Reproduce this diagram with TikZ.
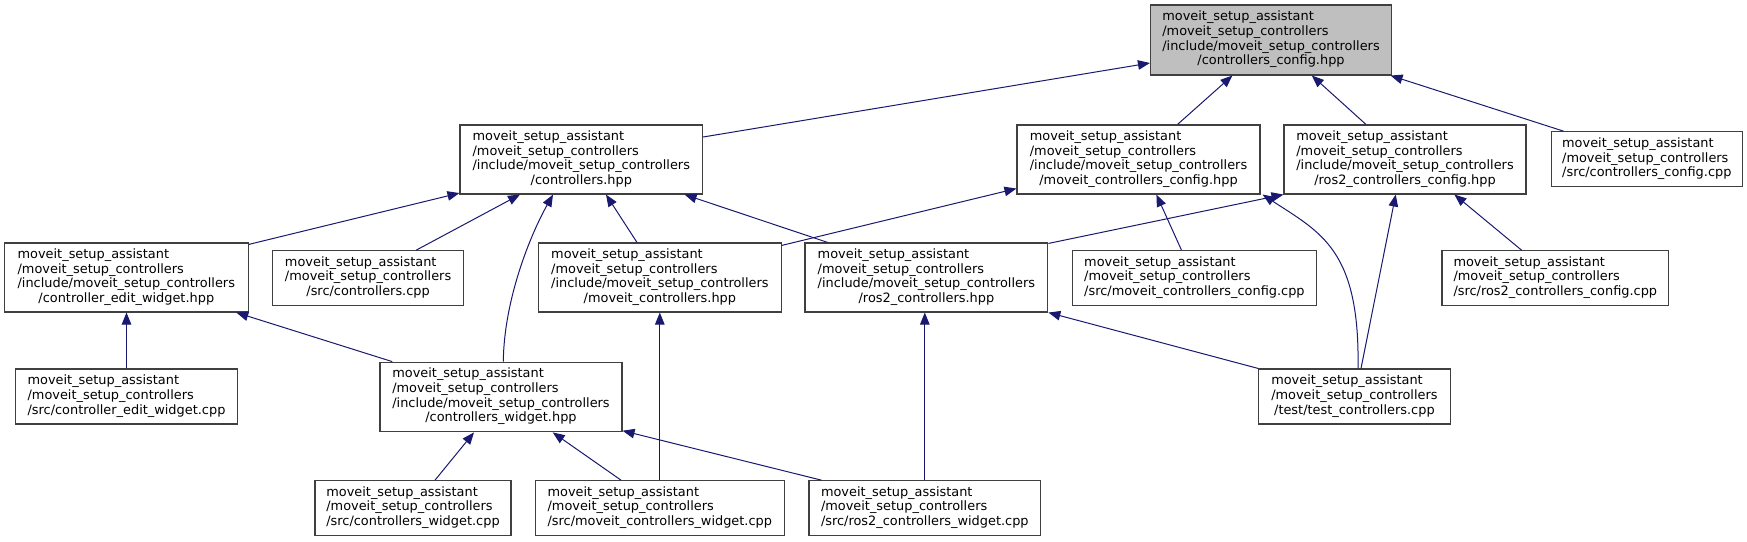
\documentclass[tikz,border=0pt]{standalone}
\usepackage{fontspec}
\setmainfont{DejaVu Sans}
\usetikzlibrary{arrows.meta}
\definecolor{edgecol}{RGB}{25,25,112}
\definecolor{boxline}{RGB}{64,64,64}
\definecolor{hl}{RGB}{191,191,191}
\newcommand{\NT}[2]{\begin{tabular}{@{}l@{}}#1\\\multicolumn{1}{@{}c@{}}{#2}\end{tabular}}
\begin{document}
\begin{tikzpicture}[x=1pt,y=-1pt,
  box/.style={draw=boxline, line width=1.1pt, fill=white, inner sep=0pt, align=center,
    font=\fontsize{12.9}{14.7}\selectfont},
  edge/.style={draw=edgecol, line width=1pt, -{Triangle[length=12pt,width=9.5pt]}}]
\useasboundingbox (0,0) rectangle (1747,541);
\fill[white] (0,0) rectangle (1747,541);

\node[box, fill=hl, minimum width=241pt, minimum height=70pt] (top) at (1271,40)
  {\NT{moveit\_setup\_assistant\\/moveit\_setup\_controllers\\/include/moveit\_setup\_controllers}{/controllers\_config.hpp}};
\node[box, minimum width=242.6pt, minimum height=69pt] (ctrl) at (581.3,159.5)
  {\NT{moveit\_setup\_assistant\\/moveit\_setup\_controllers\\/include/moveit\_setup\_controllers}{/controllers.hpp}};
\node[box, minimum width=243pt, minimum height=69pt] (mcc) at (1138.5,159.5)
  {\NT{moveit\_setup\_assistant\\/moveit\_setup\_controllers\\/include/moveit\_setup\_controllers}{/moveit\_controllers\_config.hpp}};
\node[box, minimum width=242pt, minimum height=69pt] (rcc) at (1405,159.5)
  {\NT{moveit\_setup\_assistant\\/moveit\_setup\_controllers\\/include/moveit\_setup\_controllers}{/ros2\_controllers\_config.hpp}};
\node[box, minimum width=191.5pt, minimum height=55pt] (scc) at (1646.8,159.2)
  {\NT{moveit\_setup\_assistant\\/moveit\_setup\_controllers}{/src/controllers\_config.cpp}};

\node[box, minimum width=243.5pt, minimum height=69pt] (cew) at (126.3,277.5)
  {\NT{moveit\_setup\_assistant\\/moveit\_setup\_controllers\\/include/moveit\_setup\_controllers}{/controller\_edit\_widget.hpp}};
\node[box, minimum width=190.8pt, minimum height=54.3pt] (sc) at (368.1,277.9)
  {\NT{moveit\_setup\_assistant\\/moveit\_setup\_controllers}{/src/controllers.cpp}};
\node[box, minimum width=242.3pt, minimum height=69pt] (mc) at (659.9,277.5)
  {\NT{moveit\_setup\_assistant\\/moveit\_setup\_controllers\\/include/moveit\_setup\_controllers}{/moveit\_controllers.hpp}};
\node[box, minimum width=242.8pt, minimum height=69pt] (rc) at (926.4,277.5)
  {\NT{moveit\_setup\_assistant\\/moveit\_setup\_controllers\\/include/moveit\_setup\_controllers}{/ros2\_controllers.hpp}};
\node[box, minimum width=243.8pt, minimum height=54.3pt] (smcc) at (1194.4,277.9)
  {\NT{moveit\_setup\_assistant\\/moveit\_setup\_controllers}{/src/moveit\_controllers\_config.cpp}};
\node[box, minimum width=226.6pt, minimum height=54.3pt] (srcc) at (1555.3,277.9)
  {\NT{moveit\_setup\_assistant\\/moveit\_setup\_controllers}{/src/ros2\_controllers\_config.cpp}};

\node[box, minimum width=221.7pt, minimum height=55pt] (scew) at (126.5,396.5)
  {\NT{moveit\_setup\_assistant\\/moveit\_setup\_controllers}{/src/controller\_edit\_widget.cpp}};
\node[box, minimum width=242pt, minimum height=69.7pt] (cw) at (501,397)
  {\NT{moveit\_setup\_assistant\\/moveit\_setup\_controllers\\/include/moveit\_setup\_controllers}{/controllers\_widget.hpp}};
\node[box, minimum width=191.3pt, minimum height=55pt] (tc) at (1354.4,396.5)
  {\NT{moveit\_setup\_assistant\\/moveit\_setup\_controllers}{/test/test\_controllers.cpp}};

\node[box, minimum width=196pt, minimum height=54.6pt] (scw) at (413,508)
  {\NT{moveit\_setup\_assistant\\/moveit\_setup\_controllers}{/src/controllers\_widget.cpp}};
\node[box, minimum width=249.5pt, minimum height=54.6pt] (smcw) at (659.8,508)
  {\NT{moveit\_setup\_assistant\\/moveit\_setup\_controllers}{/src/moveit\_controllers\_widget.cpp}};
\node[box, minimum width=231.6pt, minimum height=54.6pt] (srcw) at (924.8,508)
  {\NT{moveit\_setup\_assistant\\/moveit\_setup\_controllers}{/src/ros2\_controllers\_widget.cpp}};

% edges (child -> parent, arrow at parent)
\draw[edge] ([yshift=22.5pt]ctrl.east) -- ([yshift=-23pt]top.west);
\draw[edge] ([xshift=39pt]mcc.north) -- ([xshift=-38.6pt]top.south);
\draw[edge] ([xshift=-39pt]rcc.north) -- ([xshift=40.8pt]top.south);
\draw[edge] ([xshift=-83.3pt]scc.north) -- ([xshift=-1.5pt]top.south east);

\draw[edge] ([yshift=-2pt]cew.north east) -- ([yshift=1.5pt]ctrl.south west);
\draw[edge] ([xshift=48pt]sc.north) -- ([xshift=-61.3pt]ctrl.south);
\draw[edge] ([xshift=2.3pt]cw.north) .. controls +(0.7,-61.7) and +(-23,41) .. ([xshift=-28.3pt]ctrl.south);
\draw[edge] ([xshift=-22.9pt]mc.north) -- ([xshift=24.7pt]ctrl.south);
\draw[edge] ([xshift=-98.7pt]rc.north) -- ([xshift=103.3pt]ctrl.south);

\draw[edge] ([yshift=-3pt]mc.north east) -- ([yshift=6pt]mcc.south west);
\draw[edge] ([xshift=-12.9pt]smcc.north) -- ([xshift=17.9pt]mcc.south);
\draw[edge] ([xshift=3.6pt]tc.north) .. controls +(2,-119) and +(58,38) .. ([xshift=2pt]mcc.south east);

\draw[edge] ([yshift=-1pt]rc.north east) -- (rcc.south west);
\draw[edge] ([xshift=6.6pt]tc.north) -- ([xshift=-9.3pt]rcc.south);
\draw[edge] ([xshift=-33.7pt]srcc.north) -- ([xshift=49.4pt]rcc.south);

\draw[edge] (scew.north) -- (scew.north |- cew.south);
\draw[edge] ([xshift=12.8pt]cw.north west) -- ([xshift=-12.3pt]cew.south east);
\draw[edge] (smcw.north) -- (smcw.north |- mc.south);
\draw[edge] (srcw.north) -- (srcw.north |- rc.south);
\draw[edge] (tc.north west) -- (rc.south east);

\draw[edge] ([xshift=22pt]scw.north) -- ([xshift=-27pt]cw.south);
\draw[edge] ([xshift=-38.8pt]smcw.north) -- ([xshift=51.7pt]cw.south);
\draw[edge] ([xshift=13pt]srcw.north west) -- ([yshift=1.7pt]cw.south east);
\end{tikzpicture}
\end{document}
